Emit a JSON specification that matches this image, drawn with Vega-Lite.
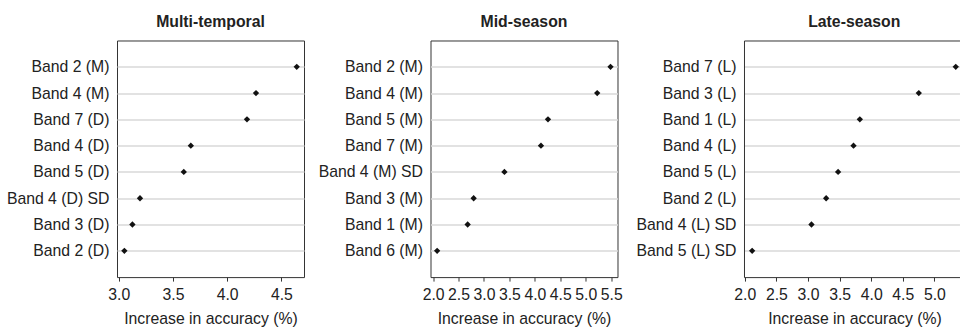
{
  "$schema": "https://vega.github.io/schema/vega-lite/v6.json",
  "background": "white",
  "padding": {"left": 5, "top": 12.5, "right": 0, "bottom": 0},
  "datasets": {
    "d": [
      {"panel": "Multi-temporal", "band": "Band 2 (M)", "value": 4.642},
      {"panel": "Multi-temporal", "band": "Band 4 (M)", "value": 4.266},
      {"panel": "Multi-temporal", "band": "Band 7 (D)", "value": 4.183},
      {"panel": "Multi-temporal", "band": "Band 4 (D)", "value": 3.665},
      {"panel": "Multi-temporal", "band": "Band 5 (D)", "value": 3.600},
      {"panel": "Multi-temporal", "band": "Band 4 (D) SD", "value": 3.196},
      {"panel": "Multi-temporal", "band": "Band 3 (D)", "value": 3.126},
      {"panel": "Multi-temporal", "band": "Band 2 (D)", "value": 3.052},
      {"panel": "Mid-season", "band": "Band 2 (M)", "value": 5.487},
      {"panel": "Mid-season", "band": "Band 4 (M)", "value": 5.225},
      {"panel": "Mid-season", "band": "Band 5 (M)", "value": 4.258},
      {"panel": "Mid-season", "band": "Band 7 (M)", "value": 4.120},
      {"panel": "Mid-season", "band": "Band 4 (M) SD", "value": 3.402},
      {"panel": "Mid-season", "band": "Band 3 (M)", "value": 2.797},
      {"panel": "Mid-season", "band": "Band 1 (M)", "value": 2.679},
      {"panel": "Mid-season", "band": "Band 6 (M)", "value": 2.079},
      {"panel": "Late-season", "band": "Band 7 (L)", "value": 5.338},
      {"panel": "Late-season", "band": "Band 3 (L)", "value": 4.753},
      {"panel": "Late-season", "band": "Band 1 (L)", "value": 3.820},
      {"panel": "Late-season", "band": "Band 4 (L)", "value": 3.720},
      {"panel": "Late-season", "band": "Band 5 (L)", "value": 3.476},
      {"panel": "Late-season", "band": "Band 2 (L)", "value": 3.287},
      {"panel": "Late-season", "band": "Band 4 (L) SD", "value": 3.055},
      {"panel": "Late-season", "band": "Band 5 (L) SD", "value": 2.116}
    ]
  },
  "data": {"name": "d"},
  "bounds": "flush",
  "spacing": 126.5,
  "config": {
    "font": "Liberation Sans",
    "view": {"stroke": "#333333", "strokeWidth": 1},
    "axis": {
      "labelFont": "Liberation Sans", "labelFontSize": 15.8, "labelColor": "#222222",
      "titleFont": "Liberation Sans", "titleFontSize": 15.8, "titleFontWeight": "normal", "titleColor": "#222222",
      "tickColor": "#333333", "domainColor": "#333333", "domainWidth": 1
    },
    "axisX": {"domain": false, "tickSize": 4, "labelPadding": 6, "grid": false, "labelOverlap": false, "labelFlush": false, "titlePadding": 9.5},
    "axisY": {"domain": false, "ticks": false, "labelPadding": 8, "grid": true, "gridColor": "#d9d9d9", "gridWidth": 1.5},
    "title": {"fontSize": 15.8, "fontWeight": "bold", "color": "#222222", "anchor": "middle", "offset": 10, "font": "Liberation Sans"},
    "point": {"shape": "diamond", "filled": true, "color": "#111111", "size": 40, "opacity": 1}
  },
  "hconcat": [
    {
      "title": "Multi-temporal",
      "width": 187, "height": 236.6,
      "transform": [{"filter": "datum.panel === 'Multi-temporal'"}],
      "mark": "point",
      "encoding": {
        "x": {"field": "value", "type": "quantitative", "scale": {"domain": [2.984, 4.709], "nice": false, "zero": false},
              "axis": {"values": [3, 3.5, 4, 4.5], "format": ".1f", "title": "Increase in accuracy (%)"}},
        "y": {"field": "band", "type": "nominal", "sort": {"field": "value", "order": "descending"},
              "scale": {"type": "point", "padding": 1}, "axis": {"title": null}}
      }
    },
    {
      "title": "Mid-season",
      "width": 187, "height": 236.6,
      "transform": [{"filter": "datum.panel === 'Mid-season'"}],
      "mark": "point",
      "encoding": {
        "x": {"field": "value", "type": "quantitative", "scale": {"domain": [1.949, 5.624], "nice": false, "zero": false},
              "axis": {"values": [2, 2.5, 3, 3.5, 4, 4.5, 5, 5.5], "format": ".1f", "title": "Increase in accuracy (%)"}},
        "y": {"field": "band", "type": "nominal", "sort": {"field": "value", "order": "descending"},
              "scale": {"type": "point", "padding": 1}, "axis": {"title": null}}
      }
    },
    {
      "title": {"text": "Late-season", "dx": 2.5},
      "width": 215.5, "height": 236.6,
      "view": {"stroke": null},
      "transform": [{"filter": "datum.panel === 'Late-season'"}],
      "encoding": {
        "y": {"field": "band", "type": "nominal", "sort": {"field": "value", "order": "descending"},
              "scale": {"type": "point", "padding": 1}, "axis": {"title": null, "domain": true}}
      },
      "layer": [
        {
          "mark": "point",
          "encoding": {
            "x": {"field": "value", "type": "quantitative", "scale": {"domain": [1.987, 5.397], "nice": false, "zero": false},
                  "axis": {"values": [2, 2.5, 3, 3.5, 4, 4.5, 5], "format": ".1f", "title": "Increase in accuracy (%)", "titleX": 110.5, "domain": true}}
          }
        },
        {
          "mark": {"type": "point", "opacity": 0},
          "encoding": {
            "x": {"field": "value", "type": "quantitative",
                  "axis": {"orient": "top", "labels": false, "ticks": false, "domain": true, "title": null, "grid": false}}
          }
        }
      ],
      "resolve": {"axis": {"x": "independent"}}
    }
  ]
}
